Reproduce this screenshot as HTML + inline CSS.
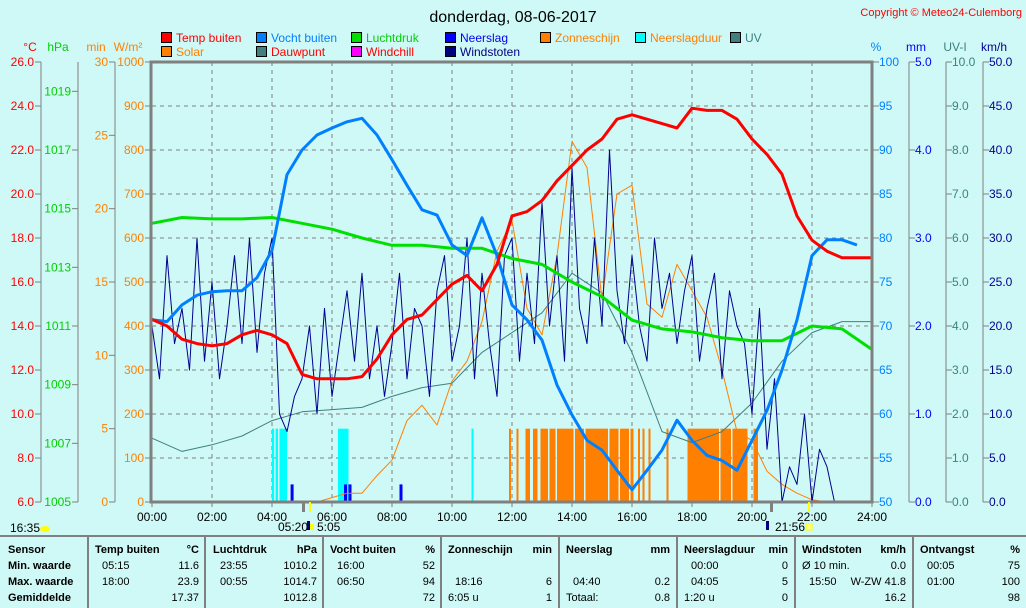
<!DOCTYPE html>
<html><head><meta charset="utf-8">
<style>
html,body{margin:0;padding:0;background:#cff9f6;}
svg{display:block;font-family:"Liberation Sans",sans-serif;}
</style></head>
<body>
<svg id="chart" width="1026" height="608" viewBox="0 0 1026 608" xmlns="http://www.w3.org/2000/svg">
<rect x="0" y="0" width="1026" height="608" fill="#cff9f6"/>
<text x="513" y="22" text-anchor="middle" font-size="16" fill="#000">donderdag, 08-06-2017</text>
<text x="1022" y="16" text-anchor="end" font-size="11" fill="#ff0000">Copyright © Meteo24-Culemborg</text>
<g id="grid"></g>
<g id="bars"></g>
<g id="lines"></g>
<g id="axes"></g>
<g id="legend"></g>
<g id="table"></g>
</svg>
<script>
// ---- data ----
const tempHalfHour = [14.3,14.0,13.4,13.2,13.1,13.2,13.6,13.8,13.6,13.2,11.8,11.6,11.6,11.6,11.7,12.5,13.6,14.3,14.5,15.2,15.9,16.3,15.6,16.8,19.0,19.2,19.7,20.6,21.3,22.0,22.5,23.4,23.6,23.4,23.2,23.0,23.9,23.8,23.8,23.4,22.5,21.8,20.9,19.0,17.9,17.4,17.1,17.1,17.1];
const humidityHalfHour = [70.7,70.5,72.4,73.5,73.9,74.0,74.0,75.5,78.6,87.2,90,91.7,92.5,93.2,93.6,91.7,88.9,86,83.2,82.6,79.2,78,82.3,78,72.4,70.7,68.4,63.3,59.9,57,55.9,53.6,51.4,53.6,55.9,59.3,57,55.3,54.7,53.6,57,60.4,65,70.7,78,79.8,79.8,79.2];
const pressureHourly = [1014.5,1014.7,1014.65,1014.65,1014.7,1014.5,1014.3,1014.0,1013.75,1013.75,1013.65,1013.65,1013.3,1013.1,1012.5,1012.0,1011.2,1010.9,1010.8,1010.6,1010.5,1010.5,1011.0,1010.9,1010.2];
const solarHalfHour = [0,0,0,0,0,0,0,0,0,0,0,0,10,20,20,60,95,185,220,175,275,320,410,570,640,440,380,560,820,760,460,700,720,450,420,540,480,420,300,160,140,70,40,20,5,0,0,0,0];
const dewpointHourly = [8.9,8.3,8.6,9.0,9.7,10.1,10.2,10.3,10.8,11.2,11.4,12.8,13.7,14.6,16.4,15.5,12.8,9.2,8.7,9.2,10.5,12.4,13.7,14.2,14.2];
const gustQuarter = [20,14,28,18,22,15,30,16,25,14,20,28,18,30,17,26,30,10,8,12,14,20,10,22,12,18,24,16,26,14,20,12,18,26,14,22,20,12,24,28,16,20,30,14,26,18,12,28,30,16,26,18,34,20,28,16,38,22,18,30,20,40,24,18,28,20,16,30,22,26,18,24,28,16,22,26,14,24,20,18,10,22,6,14,0,4,2,10,0,6,4,0,0,0,0,0];
const sunStart = [11.9,12.15,12.45,12.7,12.95,13.25,13.5,14.1,14.45,15.25,15.6,15.95,16.2,16.35,16.55,17.15,17.85,18.95,19.35,20.05];
const sunEnd =   [11.95,12.2,12.6,12.85,13.2,13.45,14.05,14.4,15.2,15.55,15.9,16.05,16.25,16.4,16.6,17.2,18.9,19.3,19.85,20.2];
const sunMinutes = 5;
const rainDurStart = [4.0,4.12,4.25,6.2,10.65];
const rainDurEnd =   [4.07,4.2,4.5,6.55,10.7];
const rainDurMinutes = 5;
const rainTimes = [4.67,6.45,6.6,8.3];
const rainMm = [0.2,0.2,0.2,0.2];
const xTickLabels = ["00:00","02:00","04:00","06:00","08:00","10:00","12:00","14:00","16:00","18:00","20:00","22:00","24:00"];

// ---- scales ----
const X0=152,X1=872,Y0=502,Y1=62,H=Y0-Y1;
const NS='http://www.w3.org/2000/svg';
const xH=h=>X0+h*(X1-X0)/24;
const yT=t=>Y0-(t-6)/20*H;
const yP=p=>Y0-(p-1005)/15*H;
const yS=w=>Y0-w/1000*H;
const yHum=v=>Y0-(v-50)/50*H;
const yMin=m=>Y0-m/30*H;
const yMm=m=>Y0-m/5*H;
const yKmh=k=>Y0-k/50*H;
function el(tag,attrs,parent){const e=document.createElementNS(NS,tag);for(const k in attrs)e.setAttribute(k,attrs[k]);parent.appendChild(e);return e;}
function txt(s,attrs,parent){const e=el('text',attrs,parent);e.textContent=s;return e;}
const grid=document.getElementById('grid'),bars=document.getElementById('bars'),lines=document.getElementById('lines'),axes=document.getElementById('axes'),legend=document.getElementById('legend'),table=document.getElementById('table');

// grid
for(let i=1;i<12;i++){const g=el('line',{x1:xH(i*2),x2:xH(i*2),y1:Y1,y2:Y0,stroke:'#808080','stroke-dasharray':'4,4'},grid);

}
for(let w=100;w<1000;w+=100){const g=el('line',{x1:X0,x2:X1,y1:yS(w),y2:yS(w),stroke:'#808080','stroke-dasharray':'4,4'},grid);

}

// bars
rainDurStart.forEach((s,i)=>{const r=el('rect',{x:xH(s),y:yMin(rainDurMinutes),width:Math.max(2,xH(rainDurEnd[i])-xH(s)),height:Y0-yMin(rainDurMinutes),fill:'#00ffff'},bars);

});
sunStart.forEach((s,i)=>{const r=el('rect',{x:xH(s),y:yMin(sunMinutes),width:Math.max(2,xH(sunEnd[i])-xH(s)),height:Y0-yMin(sunMinutes),fill:'#ff8000'},bars);

});
rainTimes.forEach((t,i)=>{const r=el('rect',{x:xH(t)-1.5,y:yMm(rainMm[i]),width:3,height:Y0-yMm(rainMm[i]),fill:'#0000ff'},bars);

});

function poly(vals,step,yf,color,w,name){const pts=vals.map((v,i)=>xH(i*step).toFixed(1)+','+yf(v).toFixed(1)).join(' ');
const p=el('polyline',{points:pts,fill:'none',stroke:color,'stroke-width':w,'stroke-linejoin':'round'},lines);

}
poly(dewpointHourly,1,yT,'#408080',1,'dewpoint-line');
poly(solarHalfHour,0.5,yS,'#ff8000',1,'solar-line');
poly(gustQuarter,0.25,yKmh,'#000090',1,'wind-gust-line');
poly(pressureHourly,1,yP,'#00e000',3,'pressure-line');
poly(humidityHalfHour,0.5,yHum,'#0080ff',3,'humidity-line');
poly(tempHalfHour,0.5,yT,'#ff0000',3,'temperature-line');
// baseline dotted
const bl=el('line',{x1:X0,x2:X1,y1:Y0-1,y2:Y0-1,stroke:'#000080','stroke-dasharray':'1,2'},lines);



// plot frame
const fr=el('rect',{x:X0-1,y:Y1,width:X1-X0+1,height:H,fill:'none',stroke:'#808080','stroke-width':3},axes);



// axes
function axis(xLine,vals,yf,fmt,color,side,name,drawLine){
 if(drawLine){const l=el('line',{x1:xLine,x2:xLine,y1:Y1,y2:Y0,stroke:'#808080'},axes);
 
 }
 vals.forEach(v=>{const y=yf(v);el('line',{x1:side<0?xLine-6:xLine,x2:side<0?xLine:xLine+6,y1:y,y2:y,stroke:'#808080'},axes);
 const t=txt(fmt(v),{x:side<0?xLine-7:xLine+6,y:y+4,'text-anchor':side<0?'end':'start','font-size':12,fill:color},axes);
 
 });}
const tempTicks=[6,8,10,12,14,16,18,20,22,24,26];
const hpaTicks=[1005,1007,1009,1011,1013,1015,1017,1019];
const minTicks=[0,5,10,15,20,25,30];
const wTicks=[0,100,200,300,400,500,600,700,800,900,1000];
const humTicks=[50,55,60,65,70,75,80,85,90,95,100];
const mmTicks=[0,1,2,3,4,5];
const uvTicks=[0,1,2,3,4,5,6,7,8,9,10];
const kmhTicks=[0,5,10,15,20,25,30,35,40,45,50];
axis(41,tempTicks,yT,v=>v.toFixed(1),'#ff0000',-1,'temp-axis',true);
axis(78,hpaTicks,yP,v=>String(v),'#00d000',-1,'pressure-axis',true);
axis(115,minTicks,yMin,v=>String(v),'#ff8000',-1,'minutes-axis',true);
axis(151,wTicks,yS,v=>String(v),'#ff8000',-1,'solar-axis',false);
axis(873,humTicks,yHum,v=>String(v),'#0080ff',1,'humidity-axis',false);
axis(909,mmTicks,yMm,v=>v.toFixed(1),'#0000ff',1,'rain-axis',true);
axis(946,uvTicks,v=>Y0-v/10*H,v=>v.toFixed(1),'#408080',1,'uv-axis',true);
axis(983,kmhTicks,yKmh,v=>v.toFixed(1),'#000090',1,'wind-axis',true);
[['°C',30,'#ff0000'],['hPa',58,'#00d000'],['min',96,'#ff8000'],['W/m²',128,'#ff8000'],['%',876,'#0080ff'],['mm',916,'#0000ff'],['UV-I',955,'#408080'],['km/h',994,'#000090']].forEach(a=>{
 const t=txt(a[0],{x:a[1],y:51,'text-anchor':'middle','font-size':12,fill:a[2]},axes);
 
 });
xTickLabels.forEach((s,i)=>{el('line',{x1:xH(i*2),x2:xH(i*2),y1:Y0,y2:Y0+5,stroke:'#808080'},axes);
 const t=txt(s,{x:xH(i*2),y:521,'text-anchor':'middle','font-size':12,fill:'#000'},axes);
 
 });
// sunrise/sunset markers
el('rect',{x:302,y:Y0,width:3,height:10,fill:'#808080'},axes);
el('rect',{x:309,y:Y0,width:2,height:10,fill:'#ffff00'},axes);
el('rect',{x:770,y:Y0,width:3,height:10,fill:'#808080'},axes);
el('rect',{x:808,y:Y0,width:2,height:10,fill:'#ffff00'},axes);
[['16:35',10,532],['05:20',278,531],['5:05',317,531],['21:56',775,531]].forEach(a=>{
 const t=txt(a[0],{x:a[1],y:a[2],'font-size':12,fill:'#000'},axes);
 
 });
el('ellipse',{cx:45,cy:529,rx:5,ry:3,fill:'#ffff00'},axes);
el('rect',{x:307,y:521,width:3,height:9,fill:'#000080'},axes);
el('rect',{x:310,y:524,width:4,height:6,fill:'#ffff00'},axes);
el('rect',{x:766,y:521,width:3,height:9,fill:'#000080'},axes);
el('rect',{x:806,y:524,width:6,height:6,fill:'#ffff80',stroke:'#ffff00'},axes);

// legend
const legItems=[['Temp buiten','#ff0000','#ff0000',162,39],['Vocht buiten','#0080ff','#0080ff',257,39],['Luchtdruk','#00e000','#00d000',352,39],['Neerslag','#0000ff','#0000ff',446,39],['Zonneschijn','#ff8000','#ff8000',541,39],['Neerslagduur','#00ffff','#ff8000',636,39],['UV','#408080','#408080',731,39],
['Solar','#ff8000','#ff8000',162,53],['Dauwpunt','#408080','#ff0000',257,53],['Windchill','#ff00ff','#ff0000',352,53],['Windstoten','#000080','#000080',446,53]];
legItems.forEach(a=>{
 const g=el('g',{},legend);
 
 
 el('rect',{x:a[3]-0.5,y:a[4]-6.5,width:10,height:10,fill:a[1],stroke:'#000'},g);
 txt(a[0],{x:a[3]+14,y:a[4]+3,'font-size':12,fill:a[2]},g);});

// table
el('line',{x1:0,x2:1026,y1:536,y2:536,stroke:'#808080','stroke-width':2},table);
[88,205,323,441,559,677,795,913].forEach(x=>el('line',{x1:x,x2:x,y1:536,y2:608,stroke:'#808080','stroke-width':2},table));
const rowsY=[553,569,585,601];
function cell(s,x,row,anchor,bold){const t=txt(s,{x:x,y:rowsY[row],'font-size':11,'text-anchor':anchor||'start','font-weight':bold?'bold':'normal',fill:'#000'},table);

}
['Sensor','Min. waarde','Max. waarde','Gemiddelde'].forEach((s,i)=>cell(s,8,i,'start',true));
const cols=[
 [95,199,'Temp buiten','°C',['05:15','18:00',''],['11.6','23.9','17.37']],
 [213,317,'Luchtdruk','hPa',['23:55','00:55',''],['1010.2','1014.7','1012.8']],
 [330,435,'Vocht buiten','%',['16:00','06:50',''],['52','94','72']],
 [448,552,'Zonneschijn','min',['','18:16','6:05 u'],['','6','1']],
 [566,670,'Neerslag','mm',['','04:40','Totaal:'],['','0.2','0.8']],
 [684,788,'Neerslagduur','min',['00:00','04:05','1:20 u'],['0','5','0']],
 [802,906,'Windstoten','km/h',['Ø 10 min.','15:50',''],['0.0','W-ZW 41.8','16.2']],
 [920,1020,'Ontvangst','%',['00:05','01:00',''],['75','100','98']]];
cols.forEach(c=>{cell(c[2],c[0],0,'start',true);cell(c[3],c[1],0,'end',true);
 c[4].forEach((s,i)=>{if(s)cell(s,c[0]+(s.indexOf(':')===2&&s.length===5?7:0),i+1,'start',false);});
 c[5].forEach((s,i)=>{if(s)cell(s,c[1],i+1,'end',false);});});
</script>
</body></html>
